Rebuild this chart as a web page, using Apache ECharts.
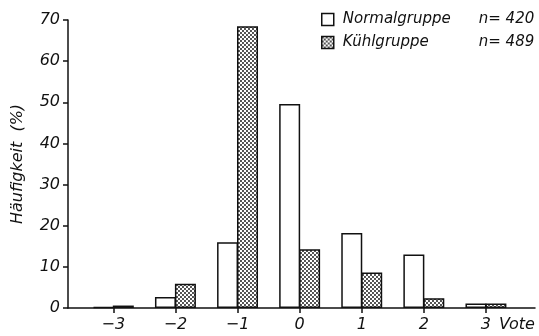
<!DOCTYPE html>
<html>
<head>
<meta charset="utf-8">
<script src="https://cdn.jsdelivr.net/npm/echarts@6/dist/echarts.min.js"></script>
<style>
  html, body { margin: 0; padding: 0; background: #fff; }
  #chart { width: 539px; height: 336px; }
</style>
</head>
<body>
<div id="chart"></div>
<script>
// Vote-Kategorien und Häufigkeiten (%)
var votes = [-3, -2, -1, 0, 1, 2, 3];
var normal = [0.3, 2.7, 16.0, 49.6, 18.2, 13.0, 1.1];
var kuehl = [0.6, 5.9, 68.5, 14.3, 8.6, 2.4, 1.1];
var groups = ['Normalgruppe', 'Kühlgruppe'];
var counts = [420, 489];
var yTicks = [0, 10, 20, 30, 40, 50, 60, 70];

function pairs(vals) {
    var out = [];
    for (var i = 0; i < votes.length; i++) {
        out.push([votes[i], vals[i]]);
    }
    return out;
}

// punktiertes Raster
function dotPattern() {
    var c = document.createElement('canvas');
    c.width = 4;
    c.height = 4;
    var ctx = c.getContext('2d');
    ctx.fillStyle = '#fff';
    ctx.fillRect(0, 0, 4, 4);
    ctx.fillStyle = '#111';
    ctx.beginPath();
    ctx.arc(1, 1, 0.95, 0, Math.PI * 2);
    ctx.arc(3, 3, 0.95, 0, Math.PI * 2);
    ctx.fill();
    return c;
}

var myChart = echarts.init(document.getElementById('chart'));
var font = 'DejaVu Sans';

option = {
    animation: false,
    backgroundColor: '#fff',
    grid: {
        left: 68,
        right: 4,
        top: 20,
        bottom: 28
    },
    legend: {
        orient: 'vertical',
        left: 316,
        top: 7,
        icon: 'rect',
        itemWidth: 12,
        itemHeight: 12,
        itemGap: 8,
        data: groups,
        formatter: function (name) {
            var n = counts[groups.indexOf(name)];
            return '{a|' + name + '}{b|n= ' + n + '}';
        },
        textStyle: {
            fontFamily: font,
            fontStyle: 'italic',
            fontSize: 15,
            color: '#111',
            padding: [0, 0, 0, 4],
            rich: {
                a: {fontFamily: font, fontStyle: 'italic', fontSize: 15, width: 136, color: '#111'},
                b: {fontFamily: font, fontStyle: 'italic', fontSize: 15, color: '#111'}
            }
        },
        itemStyle: {borderColor: '#111', borderWidth: 1.5}
    },
    xAxis: {
        type: 'value',
        min: -3.73,
        max: 3.79,
        name: 'Vote',
        nameLocation: 'end',
        nameGap: -36,
        nameTextStyle: {
            fontFamily: font,
            fontStyle: 'italic',
            fontSize: 16,
            color: '#111',
            align: 'left',
            verticalAlign: 'top',
            padding: [9, 0, 0, 0]
        },
        splitLine: {show: false},
        axisLine: {lineStyle: {color: '#111', width: 1.5}},
        axisTick: {
            show: true,
            customValues: votes,
            length: 5,
            lineStyle: {color: '#111', width: 1.5}
        },
        axisLabel: {
            customValues: votes,
            margin: 9,
            fontFamily: font,
            fontStyle: 'italic',
            fontSize: 16,
            color: '#111',
            formatter: function (v) {
                return v < 0 ? '\u2212' + Math.abs(v) : String(v);
            }
        }
    },
    yAxis: {
        type: 'value',
        min: 0,
        max: 70,
        interval: 10,
        name: 'Häufigkeit  (%)',
        nameLocation: 'middle',
        nameGap: 42,
        nameTextStyle: {
            fontFamily: font,
            fontStyle: 'italic',
            fontSize: 16,
            color: '#111'
        },
        splitLine: {show: false},
        axisLine: {show: true, onZero: false, lineStyle: {color: '#111', width: 1.5}},
        axisTick: {show: true, length: 5, lineStyle: {color: '#111', width: 1.5}},
        axisLabel: {
            margin: 8,
            fontFamily: font,
            fontStyle: 'italic',
            fontSize: 16,
            color: '#111',
            formatter: function (v) {
                return yTicks.indexOf(v) >= 0 ? String(v) : '';
            }
        }
    },
    series: [
        {
            name: groups[0],
            type: 'bar',
            barWidth: 21,
            barGap: '-5%',
            itemStyle: {color: '#fff', borderColor: '#111', borderWidth: 1.5},
            data: pairs(normal)
        },
        {
            name: groups[1],
            type: 'bar',
            barWidth: 21,
            barGap: '-5%',
            itemStyle: {
                color: {image: dotPattern(), repeat: 'repeat'},
                borderColor: '#111',
                borderWidth: 1.5
            },
            data: pairs(kuehl)
        }
    ]
};

myChart.setOption(option);
</script>
</body>
</html>
